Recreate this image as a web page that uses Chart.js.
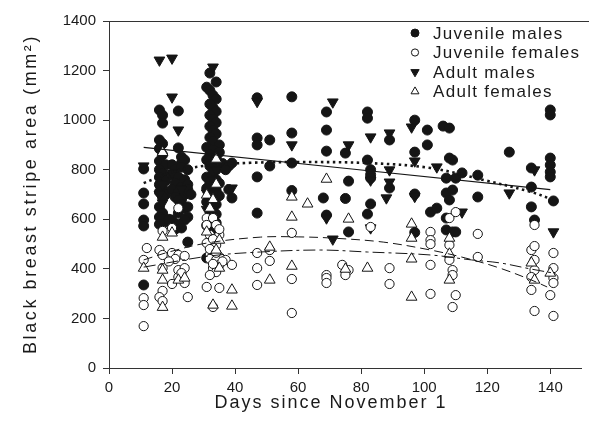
<!DOCTYPE html>
<html>
<head>
<meta charset="utf-8">
<script src="https://cdn.jsdelivr.net/npm/chart.js@4.4.0/dist/chart.umd.min.js"></script>
<style>
  html, body { margin: 0; padding: 0; background: #fff; }
  #chart { display: block; }
</style>
</head>
<body>
<canvas id="chart" width="589" height="430"></canvas>
<script>
// [day, area] pairs
const juvenileMales = [
    [11,803],[11,706],[11,662],[11,597],[11,573],[11,335],
    [16,1041],[17,1020],[17,988],[16,920],[17,905],[16,885],[17,860],[16,835],[18,820],[16,800],
    [17,785],[16,770],[18,755],[16,740],[17,725],[16,710],[18,700],[17,690],[16,650],[17,625],
    [16,609],[18,589],[17,600],[16,580],
    [22,1037],[22,888],[23,851],[23,827],[24,839],[20,820],[21,800],[23,810],[25,800],[20,780],
    [22,770],[24,760],[21,745],[23,730],[25,740],[20,720],[22,710],[24,700],[21,690],[23,680],
    [25,720],[22,678],[23,660],[24,645],[22,625],[25,609],[24,597],[20,597],[22,580],[23,565],
    [21,560],[25,508],[25,650],[26,700],[19,600],
    [31,1133],[32,1190],[34,1154],[32,1120],[33,1100],[34,1085],[32,1065],[33,1050],[34,1035],
    [32,1020],[33,1005],[34,990],[32,975],[33,960],[34,945],[32,930],[33,915],[35,900],[31,890],
    [33,880],[35,870],[32,860],[34,850],[31,840],[33,830],[36,825],[32,815],[34,800],[33,790],
    [31,770],[34,760],[32,750],[35,745],[33,735],[31,725],[34,715],[32,705],[35,695],[33,685],
    [31,670],[34,660],[32,650],[33,635],[34,620],[32,610],[33,595],[34,585],[31,575],[33,560],
    [32,545],[31,444],
    [39,827],[38,815],[37,800],[38,720],[39,686],
    [47,1090],[47,928],[47,900],[47,771],[47,625],
    [51,920],[51,815],
    [58,1094],[58,948],[58,827],[58,716],
    [68,686],[69,1033],[69,960],[69,875],[69,617],
    [75,867],[75,684],[76,754],[76,549],
    [82,1033],[82,1008],[82,839],[83,800],[83,780],[83,766],[83,662],[82,621],
    [89,920],[89,726],
    [97,1000],[97,871],[97,702],[97,547],
    [101,960],[101,900],[102,629],
    [104,645],
    [106,976],[107,766],[107,706],[107,605],[107,557],
    [108,968],[108,847],[109,839],[109,718],[108,678],[109,549],
    [110,766],[110,549],
    [112,787],
    [117,778],[117,690],
    [127,871],
    [134,807],[134,730],[134,650],
    [135,597],
    [140,1041],[140,1021],[140,847],[140,819],[140,791],[140,771],
    [141,674]
];

const juvenileFemales = [
    [11,436],[12,484],[11,282],[11,254],[11,169],
    [17,553],[16,476],[17,456],[17,403],[17,311],[16,286],[17,270],
    [20,565],[20,464],[22,645],[22,395],[22,367],[20,339],[24,343],[25,286],[22,456],[24,452],
    [21,440],[24,403],[23,383],[19,430],
    [31,605],[33,605],[31,577],[34,577],[32,537],[35,537],[31,504],[34,496],[32,456],[35,448],
    [32,440],[34,436],[37,436],[35,416],[33,403],[34,387],[32,375],[31,327],[35,323],[33,246],
    [33,420],[33,520],[35,560],[32,480],[34,465],[39,416],[36,430],
    [47,464],[47,403],[47,335],
    [51,476],[51,432],
    [58,545],[58,359],[58,222],
    [69,375],[69,363],[69,343],
    [74,416],[76,395],[75,375],
    [83,569],
    [89,403],[89,339],
    [102,549],[102,516],[102,500],[102,416],[102,299],
    [108,605],[110,629],[108,496],[108,436],[109,395],[109,375],[110,294],[109,246],
    [117,541],[117,448],
    [134,476],[135,492],[135,436],[135,395],[134,367],[134,315],[135,230],[135,577],
    [141,464],[141,403],[141,363],[141,343],[140,294],[141,210]
];

const adultMales = [
    [11,815],[16,1242],[20,1250],[20,1093],[22,960],[17,666],[20,787],[17,740],[23,720],[16,700],
    [33,1214],[31,706],[33,700],[33,760],[34,800],[31,640],[33,600],[39,726],
    [47,1075],[58,900],[69,605],[71,1073],[71,520],[76,900],[83,932],[83,758],[83,565],[88,686],
    [89,948],[89,799],[89,750],[96,972],[97,835],[97,692],[104,811],[112,629],[127,706],
    [135,799],[141,549]
];

const adultFemales = [
    [11,403],[17,870],[17,528],[17,395],[17,355],[17,245],[20,545],[22,355],[24,363],
    [34,843],[34,742],[31,698],[33,680],[32,645],[31,549],[35,516],[34,476],[35,403],[33,254],
    [39,315],[39,250],
    [51,488],[51,355],[58,690],[58,609],[58,411],[63,662],[69,762],[75,399],[76,601],[82,403],
    [96,581],[96,524],[96,440],[96,286],[108,524],[108,460],[108,355],[134,424],[135,355],[140,383]
];

// fitted curves, read at a few days along each line
const juvMaleFit = [[11,890],[140,720]];
const adultMaleFit = [[11,746],[16,771],[21,795],[32,818],[45,828],[60,831],[82,827],[102,807],[119,758],[134,710],[141,678]];
const juvFemaleFit = [[11,436],[19,468],[31,504],[48,528],[60,529],[71,524],[87,508],[102,476],[113,444],[124,403],[134,355],[139,327]];
const adultFemaleFit = [[11,407],[32,452],[48,468],[67,476],[82,468],[102,456],[115,436],[124,424],[134,399],[141,383]];

const xTicks = [0, 20, 40, 60, 80, 100, 120, 140];
const yTicks = [0, 200, 400, 600, 800, 1000, 1200, 1400];

const legendLabels = ['Juvenile males', 'Juvenile females', 'Adult males', 'Adult females'];
const xTitle = 'Days since November 1';
const yTitle = 'Black breast stripe area (mm\u00B2)';

const INK = '#151515';
const FONT = "'Liberation Sans', Arial, Helvetica, sans-serif";

function toPts(arr) {
    return arr.map(p => ({ x: p[0], y: p[1] }));
}

function fitLine(arr, dash, width) {
    return {
        data: toPts(arr),
        showLine: true,
        pointRadius: 0,
        borderColor: INK,
        borderWidth: width,
        borderDash: dash,
        tension: 0.35,
        fill: false,
        order: 0
    };
}

const markers = [
    { style: 'circle', rot: 0, fill: INK, r: 5, lr: 4 },
    { style: 'circle', rot: 0, fill: '#fff', r: 4.6, lr: 3.6 },
    { style: 'triangle', rot: 180, fill: INK, r: 6.2, lr: 4.8 },
    { style: 'triangle', rot: 0, fill: '#fff', r: 6.2, lr: 4.6 }
];

function scatterSet(arr, m, order) {
    return {
        data: toPts(arr),
        pointStyle: m.style,
        rotation: m.rot,
        pointRadius: m.r,
        backgroundColor: m.fill,
        borderColor: INK,
        borderWidth: 1,
        order: order
    };
}

function drawMarker(ctx, m, x, y) {
    ctx.beginPath();
    if (m.style === 'circle') {
        ctx.arc(x, y, m.lr, 0, Math.PI * 2);
    } else {
        let rad = m.rot * Math.PI / 180;
        for (let i = 0; i < 3; i++) {
            const px = x + Math.sin(rad) * m.lr;
            const py = y - Math.cos(rad) * m.lr;
            if (i === 0) ctx.moveTo(px, py); else ctx.lineTo(px, py);
            rad += Math.PI * 2 / 3;
        }
        ctx.closePath();
    }
    ctx.fillStyle = m.fill;
    ctx.fill();
    ctx.strokeStyle = INK;
    ctx.lineWidth = 1;
    ctx.stroke();
}

const overlay = {
    id: 'overlay',
    afterDraw(chart) {
        const ctx = chart.ctx;
        const a = chart.chartArea;
        ctx.save();

        // top frame line
        ctx.strokeStyle = '#333';
        ctx.lineWidth = 1;
        ctx.beginPath();
        ctx.moveTo(a.left, a.top + 0.5);
        ctx.lineTo(chart.width, a.top + 0.5);
        ctx.stroke();

        // axis titles
        ctx.fillStyle = '#1a1a1a';
        ctx.textAlign = 'center';
        ctx.textBaseline = 'middle';
        ctx.font = '18px ' + FONT;
        ctx.letterSpacing = '2px';
        ctx.fillText(xTitle, 331, 403);

        ctx.save();
        ctx.translate(31, 194);
        ctx.rotate(-Math.PI / 2);
        ctx.letterSpacing = '2.6px';
        ctx.fillText(yTitle, 0, 0);
        ctx.restore();

        // legend
        ctx.font = '17px ' + FONT;
        ctx.letterSpacing = '1.3px';
        ctx.textAlign = 'left';
        legendLabels.forEach((label, i) => {
            const y = 33 + i * 19.5;
            drawMarker(ctx, markers[i], 415, y);
            ctx.fillStyle = '#1a1a1a';
            ctx.fillText(label, 433, y + 1);
        });

        ctx.restore();
    }
};

new Chart(document.getElementById('chart'), {
    type: 'scatter',
    data: {
        datasets: [
            fitLine(juvMaleFit, [], 1.2),
            fitLine(adultMaleFit, [2.5, 3.5], 2.6),
            fitLine(juvFemaleFit, [9, 5], 1),
            fitLine(adultFemaleFit, [12, 4, 3, 4], 1),
            scatterSet(adultFemales, markers[3], 1),
            scatterSet(juvenileFemales, markers[1], 2),
            scatterSet(adultMales, markers[2], 3),
            scatterSet(juvenileMales, markers[0], 4)
        ]
    },
    options: {
        responsive: false,
        devicePixelRatio: 1,
        animation: false,
        events: [],
        layout: { padding: { top: 21, right: 5, left: 0, bottom: 0 } },
        plugins: {
            legend: { display: false },
            tooltip: { enabled: false }
        },
        scales: {
            x: {
                type: 'linear',
                min: 0,
                max: 150,
                afterBuildTicks: axis => { axis.ticks = xTicks.map(v => ({ value: v })); },
                afterFit: axis => { axis.height = 62; },
                grid: { drawOnChartArea: false, drawTicks: true, tickLength: 6, color: '#333' },
                border: { display: true, color: '#333', width: 1 },
                ticks: { color: '#1a1a1a', padding: 5, maxRotation: 0, callback: v => String(v), font: { family: FONT, size: 15 } }
            },
            y: {
                type: 'linear',
                min: 0,
                max: 1400,
                afterBuildTicks: axis => { axis.ticks = yTicks.map(v => ({ value: v })); },
                afterFit: axis => { axis.width = 109; },
                grid: { drawOnChartArea: false, drawTicks: true, tickLength: 6, color: '#333' },
                border: { display: true, color: '#333', width: 1 },
                ticks: { color: '#1a1a1a', padding: 7, callback: v => String(v), font: { family: FONT, size: 15 } }
            }
        }
    },
    plugins: [overlay]
});
</script>
</body>
</html>
